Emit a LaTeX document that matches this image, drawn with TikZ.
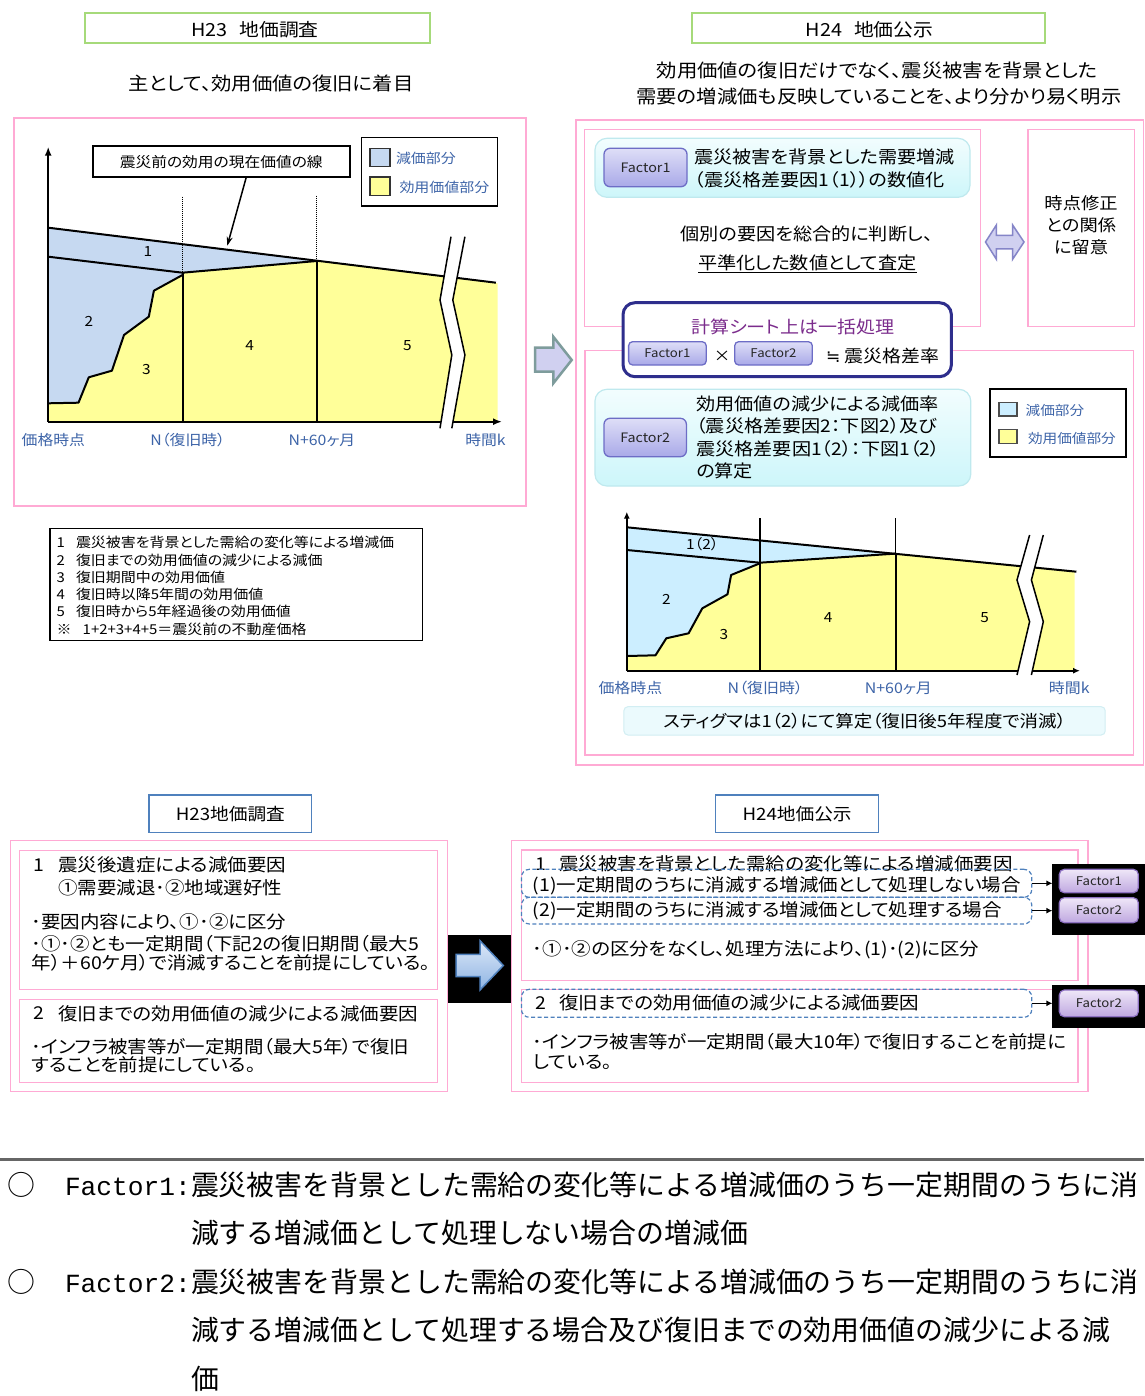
\documentclass[tikz,border=0pt]{standalone}
\usepackage{fontspec}
\setmainfont{Noto Sans CJK JP}[RawFeature=+palt,FakeStretch=1.1]
\newfontfamily\minchof{Noto Sans CJK JP}
\newfontfamily\latmono{Liberation Mono}
\newfontfamily\dejavu{DejaVu Sans}
\usetikzlibrary{arrows.meta}
\newcommand{\fsz}[1]{\fontsize{#1}{#1}\selectfont}
\definecolor{pinkl}{HTML}{FFAAD4}
\definecolor{greenl}{HTML}{A6DA7A}
\definecolor{bluet}{HTML}{4F81BD}
\definecolor{blueL}{HTML}{C6D9F1}
\definecolor{blueR}{HTML}{CCEEFF}
\definecolor{yellowL}{HTML}{FFFF99}
\definecolor{axisblue}{HTML}{3D64A8}
\definecolor{cyantop}{HTML}{F2FDFE}
\definecolor{cyanbot}{HTML}{CDF6FA}
\definecolor{cyanbd}{HTML}{BFE9EE}
\definecolor{ftop}{HTML}{DEDEF7}
\definecolor{fbot}{HTML}{A9A9E8}
\definecolor{fbd}{HTML}{6D6DC6}
\definecolor{ptop}{HTML}{EFE7F8}
\definecolor{pbot}{HTML}{BFA8E0}
\definecolor{pbd}{HTML}{8E72C2}
\definecolor{navyP}{HTML}{2E2E8C}
\definecolor{purpT}{HTML}{7B2C8C}
\definecolor{lavL}{HTML}{D0D0F0}
\definecolor{arrowgray}{HTML}{7E9C9C}
\definecolor{abtop}{HTML}{DDE8F8}
\definecolor{abbot}{HTML}{8EB4E3}
\definecolor{stigfill}{HTML}{EBFAFD}
\definecolor{stigbd}{HTML}{D2EEF3}
\definecolor{dblbd}{HTML}{8585C8}
\newcommand{\mybx}[7]{%
  \pgfmathsetmacro\mybxw{#5-#3}%
  \pgfmathsetmacro\mybxh{#6-#4}%
  \node[inner sep=0pt, outer sep=0pt, #2, minimum width=\mybxw pt, minimum height=\mybxh pt] (#1) at ({(#3+#5)/2},{(#4+#6)/2}) {#7};}
\begin{document}
\begin{tikzpicture}[x=1pt,y=-1pt,
  txt/.style={inner sep=0pt, outer sep=0pt},
  bt/.style={inner sep=0pt, outer sep=0pt, anchor=west, font=\fsz{17.7}},
  nl/.style={inner sep=0pt, outer sep=0pt, anchor=west, font=\fsz{13.6}},
  bn/.style={inner sep=0pt, outer sep=0pt, anchor=base west, font=\minchof\fsz{27.9}},
  pinkb/.style={draw=pinkl, line width=1.5pt},
  greenb/.style={draw=greenl, line width=2pt, fill=white},
  blueb/.style={draw=bluet, line width=1.5pt, fill=white},
  blk/.style={draw=black, line width=1.5pt, fill=white},
  cyanb/.style={draw=cyanbd, line width=1.2pt, top color=cyantop, bottom color=cyanbot, rounded corners=12pt},
  fbtn/.style={draw=fbd, line width=1.3pt, top color=ftop, bottom color=fbot, rounded corners=6pt, font=\fsz{13}, text=black!85},
  pbtn/.style={draw=pbd, line width=1.2pt, top color=ptop, bottom color=pbot, rounded corners=5pt, font=\fsz{12}, text=black!85},
  dbox/.style={draw=bluet, dash pattern=on 4pt off 2.5pt, line width=1.2pt, rounded corners=8pt},
  lbl/.style={inner sep=0pt, outer sep=0pt, text=axisblue},
  thick2/.style={line width=2pt, line join=round},
  axarrow/.style={line width=2pt, -{Latex[length=9pt,width=7pt]}},
]
\fill[white] (0,0) rectangle (1144,1396);
\useasboundingbox (0,0) rectangle (1144,1396);

%================ TOP LEFT =================
\mybx{h23t}{greenb}{85.3}{12.7}{430.3}{42.7}{}
\node[txt, font=\fsz{18}] (h23tt) at (255,29.5) {H23\hspace{12pt}地価調査};
\node[txt, font=\fsz{18.5}] (sub1) at (271,83) {主として、効用価値の復旧に着目};
\mybx{pk1}{pinkb}{14}{118}{526}{506}{}

% chart fills
\fill[blueL] (48.2,227.7) -- (316.8,261) -- (182.5,272.7) -- (182.5,275) -- (153.9,290.7) -- (148.8,316.7) -- (124,335) -- (111.9,370.7) -- (88.8,377.3) -- (78.5,402.7) -- (48.2,403.3) -- cycle;
\fill[yellowL] (48.2,421.7) -- (48.2,403.3) -- (78.5,402.7) -- (88.8,377.3) -- (111.9,370.7) -- (124,335) -- (148.8,316.7) -- (153.9,290.7) -- (182.5,275) -- (182.5,272.7) -- (316.8,261) -- (497.6,283.3) -- (497.6,421.7) -- cycle;
% chart lines
\draw[thick2] (48.2,227.7) -- (495.9,282.7);
\draw[thick2] (48.2,256.7) -- (182.5,272.7) -- (316.8,261);
\draw[thick2] (48.2,403.3) -- (78.5,402.7) -- (88.8,377.3) -- (111.9,370.7) -- (124,335) -- (148.8,316.7) -- (153.9,290.7) -- (182.5,275);
\draw[thick2] (182.5,272.7) -- (182.5,421.7);
\draw[thick2] (316.8,261) -- (316.8,421.7);
\draw[densely dotted, line width=1pt] (182.5,196.7) -- (182.5,272.7);
\draw[densely dotted, line width=1pt] (316.8,195.7) -- (316.8,261);
\coordinate (lo) at (48.2,421.7);
\coordinate (ly) at (48.2,146.7);
\coordinate (lx) at (502,421.7);
\draw[axarrow] (lo) -- (ly);
\draw[axarrow] (lo) -- (lx);
% break
\fill[white] (451,236.7) -- (440,300) -- (451.8,355) -- (440,428.3) -- (451.8,428.3) -- (464.9,355) -- (452.8,300) -- (464.9,236.7) -- cycle;
\draw[line width=1.5pt] (451,236.7) -- (440,300) -- (451.8,355) -- (440,428.3);
\draw[line width=1.5pt] (464.9,236.7) -- (452.8,300) -- (464.9,355) -- (451.8,428.3);
% numbers
\node[txt, font=\fsz{14}] (ln1) at (148,251.7) {1};
\node[txt, font=\fsz{14}] (ln2) at (88.8,321.7) {2};
\node[txt, font=\fsz{14}] (ln3) at (146.3,370) {3};
\node[txt, font=\fsz{14}] (ln4) at (249.7,346) {4};
\node[txt, font=\fsz{14}] (ln5) at (407.4,346) {5};
% callout
\mybx{call}{blk, line width=2pt, font=\fsz{14.3}}{93}{146}{349.5}{177.3}{震災前の効用の現在価値の線}
\coordinate (calltip) at (227.3,245.7);
\draw[line width=1.5pt, -{Stealth[length=9pt,width=6pt]}] ([xshift=25pt]call.south) -- (calltip);
% legend
\mybx{leg1}{blk}{361.6}{137.7}{497.6}{206}{}
\mybx{sw1}{draw=black!80, line width=1.5pt, fill=blueL}{370.2}{148.3}{390.2}{166.7}{}
\mybx{sw2}{draw=black!80, line width=1.5pt, fill=yellowL}{370.2}{177}{390.2}{195.7}{}
\node[lbl, anchor=west, font=\fsz{13.6}] (lg1) at (396,158.3) {減価部分};
\node[lbl, anchor=west, font=\fsz{13.6}] (lg2) at (399.5,187.3) {効用価値部分};
% axis labels
\node[lbl, font=\fsz{14.4}] (ax1) at (53.4,440) {価格時点};
\node[lbl, font=\fsz{14.4}] (ax2) at (187.7,440) {N（復旧時）};
\node[lbl, font=\fsz{14.4}] (ax3) at (322,440) {N+60ヶ月};
\node[lbl, font=\fsz{14.4}] (ax4) at (485.5,440) {時間k};
% numbered legend
\mybx{nleg}{blk}{50}{528.3}{422.7}{640.7}{}
\node[nl] (nl1n) at (56.7,542.7) {1};
\node[nl] (nl1) at (76,542.7) {震災被害を背景とした需給の変化等による増減価};
\node[nl] (nl2n) at (56.7,560.3) {2};
\node[nl] (nl2) at (76,560.3) {復旧までの効用価値の減少による減価};
\node[nl] (nl3n) at (56.7,577.5) {3};
\node[nl] (nl3) at (76,577.5) {復旧期間中の効用価値};
\node[nl] (nl4n) at (56.7,594.5) {4};
\node[nl] (nl4) at (76,594.5) {復旧時以降5年間の効用価値};
\node[nl] (nl5n) at (56.7,611.8) {5};
\node[nl] (nl5) at (76,611.8) {復旧時から5年経過後の効用価値};
\node[nl] (nl6n) at (56.7,629.3) {※};
\node[nl] (nl6) at (82.7,629.3) {1+2+3+4+5＝震災前の不動産価格};

% arrow between panels
\draw[line width=2.5pt, draw=arrowgray, fill=lavL, line join=miter] (535,347.7) -- (553.3,347.7) -- (553.3,336.7) -- (571.7,360) -- (553.3,383.3) -- (553.3,371.7) -- (535,371.7) -- cycle;

%================ TOP RIGHT =================
\mybx{h24t}{greenb}{691.5}{12.7}{1044.5}{42.7}{}
\node[txt, font=\fsz{18}] (h24tt) at (869.5,29.5) {H24\hspace{12pt}地価公示};
\node[txt, font=\fsz{18.5}] (sub2a) at (877,71) {効用価値の復旧だけでなく、震災被害を背景とした};
\node[txt, font=\fsz{18.5}] (sub2b) at (879,96.7) {需要の増減価も反映していることを、より分かり易く明示};

\mybx{pk2}{pinkb}{576}{120}{1143.3}{765}{}
\mybx{pk3}{pinkb}{584.6}{129.3}{980.7}{326.7}{}
\mybx{pk4}{pinkb}{1028}{129.3}{1134.4}{326.7}{}
\mybx{pk5}{pinkb}{585}{350.7}{1133.7}{755}{}

\node[txt, font=\fsz{16.6}] (tp1) at (1081,203.3) {時点修正};
\node[txt, font=\fsz{16.6}] (tp2) at (1081,225.5) {との関係};
\node[txt, font=\fsz{16.6}] (tp3) at (1081,247.3) {に留意};

\draw[line width=1.5pt, draw=dblbd, fill=lavL, line join=miter] (985.5,242) -- (996.4,225) -- (996.4,235.5) -- (1012.6,235.5) -- (1012.6,225) -- (1024,242) -- (1012.6,259.3) -- (1012.6,248.8) -- (996.4,248.8) -- (996.4,259.3) -- cycle;

\mybx{cy1}{cyanb}{594.9}{138.3}{970}{197.3}{}
\mybx{f1a}{fbtn}{604}{148.3}{687}{186.7}{Factor1}
\node[txt, anchor=west, font=\fsz{17.4}] (cy1a) at (694.5,156.7) {震災被害を背景とした需要増減};
\node[txt, anchor=west, font=\fsz{17.4}] (cy1b) at (694.5,180) {（震災格差要因1（1））の数値化};

\node[txt, font=\fsz{17.4}] (indiv) at (806.6,234) {個別の要因を総合的に判断し、};
\node[txt, font=\fsz{17.4}] (heij) at (807.3,262.7) {平準化した数値として査定};
\draw[line width=1pt] ([yshift=-2pt]heij.south west) -- ([yshift=-2pt]heij.south east);

\mybx{calc}{draw=navyP, line width=3pt, fill=white, rounded corners=12pt}{623}{302.7}{951.4}{376.7}{}
\node[txt, text=purpT, font=\fsz{17.3}] (calct) at (793,326.7) {計算シート上は一括処理};
\mybx{f1b}{fbtn, font=\fsz{12}, rounded corners=4pt}{628.6}{341.7}{706.2}{365}{Factor1}
\node[txt, font=\fsz{15}] (times) at (722,356) {×};
\mybx{f2b}{fbtn, font=\fsz{12}, rounded corners=4pt}{734.7}{341.7}{812.3}{365}{Factor2}
\node[txt, anchor=west, font=\fsz{17.2}] (rate) at (826,356) {{\dejavu\fsz{17}≒} 震災格差率};

\mybx{cy2}{cyanb}{594.9}{389.3}{970.8}{486}{}
\mybx{f2a}{fbtn}{604}{418.3}{686.4}{456.7}{Factor2}
\node[txt, anchor=west, font=\fsz{17.4}] (cy2a) at (696.3,403.5) {効用価値の減少による減価率};
\node[txt, anchor=west, font=\fsz{17.4}] (cy2b) at (696.3,426) {（震災格差要因2：下図2）及び};
\node[txt, anchor=west, font=\fsz{17.4}] (cy2c) at (696.3,448.7) {震災格差要因1（2）：下図1（2）};
\node[txt, anchor=west, font=\fsz{17.4}] (cy2d) at (696.3,471) {の算定};

\mybx{leg2}{blk, line width=2pt}{990}{389.3}{1125.6}{456.7}{}
\mybx{sw3}{draw=black!70, line width=1.2pt, fill=blueR}{999}{402.7}{1017}{416}{}
\mybx{sw4}{draw=black!70, line width=1.2pt, fill=yellowL}{999}{429.3}{1017}{443.3}{}
\node[lbl, anchor=west, font=\fsz{13.3}] (lg3) at (1025.7,410) {減価部分};
\node[lbl, anchor=west, font=\fsz{13.3}] (lg4) at (1028,438.3) {効用価値部分};

% right chart
\fill[blueR] (626.8,527.3) -- (895.8,553.6) -- (759.9,562.7) -- (759.9,563.3) -- (731.1,575) -- (727.5,594.3) -- (702.3,608.3) -- (688.6,633.3) -- (666.3,638.3) -- (655.5,655.3) -- (626.8,656) -- cycle;
\fill[yellowL] (626.8,670.7) -- (626.8,656) -- (655.5,655.3) -- (666.3,638.3) -- (688.6,633.3) -- (702.3,608.3) -- (727.5,594.3) -- (731.1,575) -- (759.9,563.3) -- (759.9,562.7) -- (895.8,553.6) -- (1074.6,571.3) -- (1074.6,670.7) -- cycle;
\draw[thick2] (626.8,527.3) -- (1076.4,571.7);
\draw[thick2] (626.8,550) -- (759.9,562.7) -- (895.8,553.6);
\draw[thick2] (626.8,656) -- (655.5,655.3) -- (666.3,638.3) -- (688.6,633.3) -- (702.3,608.3) -- (727.5,594.3) -- (731.1,575) -- (759.9,563.3);
\draw[line width=1.2pt] (759.9,518) -- (759.9,670.7);
\draw[line width=1.2pt] (895.8,518) -- (895.8,553.6);
\draw[line width=2pt] (895.8,553.6) -- (895.8,670.7);
\coordinate (ro) at (626.8,670.7);
\coordinate (ry) at (626.8,511.7);
\coordinate (rx) at (1080,670.7);
\draw[line width=2pt, -{Latex[length=7pt,width=6pt]}] (ro) -- (ry);
\draw[line width=2pt, -{Latex[length=7pt,width=6pt]}] (ro) -- (rx);
\fill[white] (1029.6,535) -- (1017,580) -- (1029.6,621.7) -- (1017,675) -- (1031.4,675) -- (1043.3,621.7) -- (1031.4,580) -- (1043.3,535) -- cycle;
\draw[line width=1.5pt] (1029.6,535) -- (1017,580) -- (1029.6,621.7) -- (1017,675);
\draw[line width=1.5pt] (1043.3,535) -- (1031.4,580) -- (1043.3,621.7) -- (1031.4,675);
\node[txt, font=\fsz{14}] (rn1) at (702.3,544) {1（2）};
\node[txt, font=\fsz{14}] (rn2) at (666.3,599.3) {2};
\node[txt, font=\fsz{14}] (rn3) at (723.9,635) {3};
\node[txt, font=\fsz{14}] (rn4) at (828.2,617.3) {4};
\node[txt, font=\fsz{14}] (rn5) at (984.7,617.3) {5};
\node[lbl, font=\fsz{14.5}] (rx1) at (630.4,688.3) {価格時点};
\node[lbl, font=\fsz{14.5}] (rx2) at (765.3,688.3) {N（復旧時）};
\node[lbl, font=\fsz{14.5}] (rx3) at (898.3,688.3) {N+60ヶ月};
\node[lbl, font=\fsz{14.5}] (rx4) at (1069.2,688.3) {時間k};
\mybx{stig}{draw=stigbd, line width=1pt, fill=stigfill, rounded corners=4pt, font=\fsz{16.8}}{623.9}{706.7}{1105.2}{735}{スティグマは1（2）にて算定（復旧後5年程度で消滅）}

%================ BOTTOM =================
\mybx{h23b}{blueb, font=\fsz{17}}{149}{795}{311.7}{832.3}{H23地価調査}
\mybx{h24b}{blueb, font=\fsz{17}}{715.6}{795}{878.6}{832.3}{H24地価公示}

\mybx{pk6}{pinkb}{10.7}{840.7}{447.3}{1091.7}{}
\mybx{pk7}{pinkb}{19.3}{850.7}{437.3}{989.3}{}
\mybx{pk8}{pinkb}{19.3}{999.3}{437.3}{1082.7}{}
\node[bt] (bl1n) at (33.3,865) {1};
\node[bt] (bl1) at (58.3,865) {震災後遺症による減価要因};
\node[bt] (bl2) at (58.3,887.3) {①需要減退･②地域選好性};
\node[bt] (bl3) at (31.7,921.7) {･要因内容により、①･②に区分};
\node[bt] (bl4) at (31.7,944) {･①･②とも一定期間（下記2の復旧期間（最大5};
\node[bt] (bl5) at (31.7,962.7) {年）＋60ケ月）で消滅することを前提にしている。};
\node[bt] (bl6n) at (33.3,1013.3) {2};
\node[bt] (bl6) at (58.3,1013.3) {復旧までの効用価値の減少による減価要因};
\node[bt] (bl7) at (31.7,1046.7) {･インフラ被害等が一定期間（最大5年）で復旧};
\node[bt] (bl8) at (31.7,1065) {することを前提にしている。};

\mybx{barbox}{fill=black, draw=black}{448.3}{935}{510}{1001.7}{}
\draw[draw=bluet, line width=1.5pt, top color=abtop, bottom color=abbot, line join=miter] (456,954.3) -- (480,954.3) -- (480,940.7) -- (503.3,965.5) -- (480,990) -- (480,976.7) -- (456,976.7) -- cycle;

\mybx{pk9}{pinkb}{511.5}{840.7}{1088}{1091.7}{}
\mybx{pk10}{pinkb}{521.4}{850}{1078.2}{980.7}{}
\mybx{pk11}{pinkb}{521.4}{989.3}{1078.2}{1082.7}{}
\node[bt] (br1n) at (535,864) {1};
\node[bt] (br1) at (559.5,864) {震災被害を背景とした需給の変化等による増減価要因};
\mybx{db1}{dbox}{521.4}{869.3}{1031.8}{897.3}{}
\mybx{db2}{dbox}{521.4}{897.3}{1031.8}{924}{}
\mybx{db3}{dbox}{521.4}{989.3}{1031.8}{1017.3}{}
\node[bt] (br2) at (532.9,886) {(1)一定期間のうちに消滅する増減価として処理しない場合};
\node[bt] (br3) at (532.9,910.5) {(2)一定期間のうちに消滅する増減価として処理する場合};
\node[bt] (br4) at (532.9,950) {･①･②の区分をなくし、処理方法により、(1)･(2)に区分};
\node[bt] (br5n) at (535,1002.7) {2};
\node[bt] (br5) at (559.5,1002.7) {復旧までの効用価値の減少による減価要因};
\node[bt] (br6) at (532.9,1041.7) {･インフラ被害等が一定期間（最大10年）で復旧することを前提に};
\node[bt] (br7) at (532.9,1061.7) {している。};

\mybx{bb1}{fill=black}{1052.4}{863.5}{1150}{935}{}
\mybx{bb2}{fill=black}{1052.4}{985}{1150}{1028.3}{}
\mybx{ff1}{pbtn}{1059.3}{869.3}{1138.3}{892.7}{Factor1}
\mybx{ff2}{pbtn}{1059.3}{897.7}{1138.3}{922.7}{Factor2}
\mybx{ff3}{pbtn}{1059.3}{990}{1138.3}{1016.7}{Factor2}
\draw[line width=1.3pt, -{Latex[length=6pt,width=6pt]}] (db1.east) -- (db1.east -| bb1.west);
\draw[line width=1.3pt, -{Latex[length=6pt,width=6pt]}] (db2.east) -- (db2.east -| bb1.west);
\draw[line width=1.3pt, -{Latex[length=6pt,width=6pt]}] (db3.east) -- (db3.east -| bb2.west);

% bottom notes
\coordinate (hl1) at (0,1159.3);
\coordinate (hl2) at (1144,1159.3);
\draw[line width=2.5pt, draw=black!60] (hl1) -- (hl2);
\node[bn] (c1) at (7.5,1195) {○};
\node[txt, anchor=base west, font=\latmono\fsz{26.2}] (fa1) at (65,1195) {Factor1:};
\node[bn] (d1) at (191,1195) {震災被害を背景とした需給の変化等による増減価のうち一定期間のうちに消};
\node[bn] (d2) at (191,1243.5) {減する増減価として処理しない場合の増減価};
\node[bn] (c2) at (7.5,1292) {○};
\node[txt, anchor=base west, font=\latmono\fsz{26.2}] (fa2) at (65,1292) {Factor2:};
\node[bn] (d3) at (191,1292) {震災被害を背景とした需給の変化等による増減価のうち一定期間のうちに消};
\node[bn] (d4) at (191,1340.5) {減する増減価として処理する場合及び復旧までの効用価値の減少による減};
\node[bn] (d5) at (191,1389) {価};
\end{tikzpicture}
\end{document}
